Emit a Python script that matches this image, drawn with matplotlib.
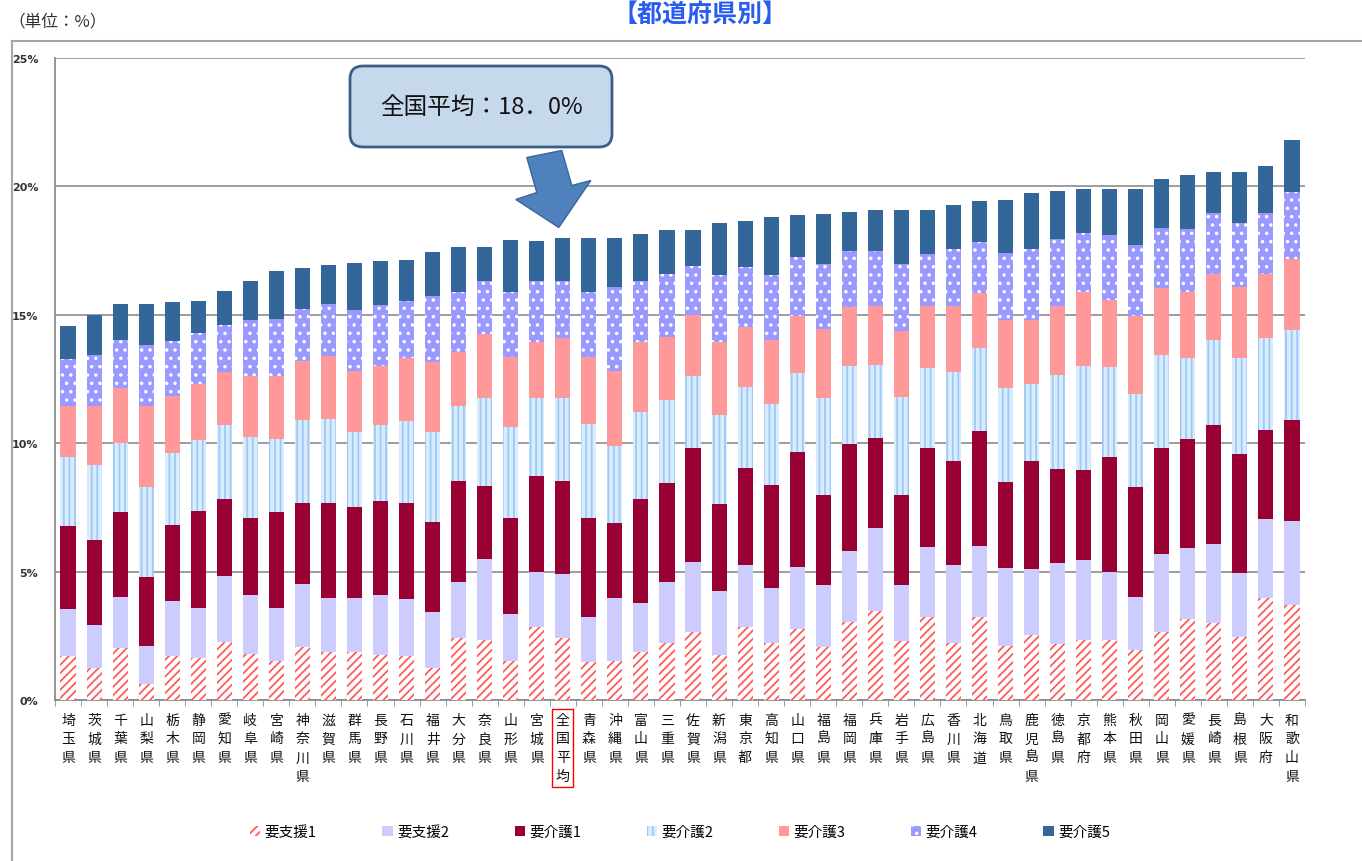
import matplotlib
matplotlib.use('Agg')
import matplotlib.pyplot as plt
import numpy as np
from matplotlib.patches import FancyBboxPatch, Polygon
from matplotlib.lines import Line2D
from matplotlib.transforms import IdentityTransform

plt.rcParams['font.family'] = ['Noto Sans CJK JP', 'DejaVu Sans']
plt.rcParams['hatch.linewidth'] = 1.3

prefs = ['埼玉県', '茨城県', '千葉県', '山梨県', '栃木県', '静岡県', '愛知県', '岐阜県',
         '宮崎県', '神奈川県', '滋賀県', '群馬県', '長野県', '石川県', '福井県', '大分県',
         '奈良県', '山形県', '宮城県', '全国平均', '青森県', '沖縄県', '富山県', '三重県',
         '佐賀県', '新潟県', '東京都', '高知県', '山口県', '福島県', '福岡県', '兵庫県',
         '岩手県', '広島県', '香川県', '北海道', '鳥取県', '鹿児島県', '徳島県', '京都府',
         '熊本県', '秋田県', '岡山県', '愛媛県', '長崎県', '島根県', '大阪府', '和歌山県']

shien1 = [1.70, 1.23, 2.01, 0.62, 1.70, 1.62, 2.26, 1.79, 1.51, 2.08, 1.86, 1.86, 1.75, 1.70, 1.25, 2.43,
          2.33, 1.53, 2.83, 2.43, 1.49, 1.53, 1.86, 2.21, 2.66, 1.76, 2.83, 2.21, 2.76, 2.05, 3.03, 3.47,
          2.31, 3.23, 2.21, 3.24, 2.10, 2.52, 2.20, 2.35, 2.32, 1.94, 2.66, 3.14, 3.00, 2.46, 3.96, 3.71]
shien2 = [1.84, 1.70, 2.01, 1.49, 2.16, 1.95, 2.58, 2.30, 2.06, 2.44, 2.10, 2.10, 2.34, 2.23, 2.16, 2.18,
          3.16, 1.82, 2.14, 2.48, 1.75, 2.43, 1.91, 2.40, 2.72, 2.47, 2.44, 2.14, 2.41, 2.43, 2.76, 3.22,
          2.15, 2.73, 3.06, 2.75, 3.05, 2.59, 3.14, 3.09, 2.66, 2.06, 3.03, 2.76, 3.09, 2.48, 3.10, 3.27]
kaigo1 = [3.22, 3.31, 3.29, 2.69, 2.95, 3.78, 2.99, 3.00, 3.74, 3.14, 3.70, 3.54, 3.67, 3.73, 3.53, 3.93,
          2.86, 3.74, 3.74, 3.62, 3.84, 2.92, 4.06, 3.84, 4.42, 3.39, 3.76, 4.03, 4.50, 3.52, 4.17, 3.52,
          3.54, 3.84, 4.02, 4.49, 3.35, 4.18, 3.67, 3.53, 4.47, 4.28, 4.14, 4.25, 4.61, 4.65, 3.47, 3.93]
kaigo2 = [2.69, 2.91, 2.70, 3.49, 2.79, 2.76, 2.88, 3.14, 2.87, 3.24, 3.28, 2.92, 2.95, 3.19, 3.48, 2.90,
          3.40, 3.55, 3.04, 3.22, 3.65, 3.02, 3.39, 3.23, 2.83, 3.46, 3.17, 3.15, 3.05, 3.75, 3.06, 2.83,
          3.79, 3.13, 3.47, 3.21, 3.64, 3.02, 3.63, 4.03, 3.52, 3.64, 3.60, 3.17, 3.31, 3.74, 3.58, 3.50]
kaigo3 = [2.01, 2.31, 2.13, 3.17, 2.23, 2.20, 2.05, 2.40, 2.45, 2.30, 2.44, 2.41, 2.31, 2.45, 2.73, 2.10,
          2.49, 2.72, 2.20, 2.33, 2.61, 2.92, 2.73, 2.47, 2.36, 2.87, 2.34, 2.49, 2.24, 2.69, 2.29, 2.31,
          2.59, 2.40, 2.59, 2.15, 2.66, 2.49, 2.71, 2.88, 2.60, 3.03, 2.60, 2.56, 2.59, 2.77, 2.49, 2.77]
kaigo4 = [1.82, 1.99, 1.89, 2.36, 2.14, 1.98, 1.84, 2.16, 2.19, 2.03, 2.05, 2.34, 2.36, 2.24, 2.57, 2.36,
          2.09, 2.52, 2.35, 2.25, 2.56, 3.27, 2.35, 2.44, 1.90, 2.60, 2.31, 2.53, 2.30, 2.55, 2.19, 2.12,
          2.61, 2.04, 2.22, 1.99, 2.59, 2.77, 2.62, 2.31, 2.54, 2.76, 2.34, 2.48, 2.35, 2.49, 2.35, 2.59]
kaigo5 = [1.27, 1.55, 1.40, 1.61, 1.52, 1.26, 1.31, 1.51, 1.89, 1.59, 1.51, 1.85, 1.72, 1.59, 1.73, 1.74,
          1.31, 2.03, 1.58, 1.67, 2.09, 1.90, 1.85, 1.70, 1.40, 2.01, 1.80, 2.27, 1.63, 1.92, 1.52, 1.61,
          2.09, 1.71, 1.70, 1.61, 2.09, 2.17, 1.86, 1.69, 1.77, 2.17, 1.93, 2.10, 1.61, 1.97, 1.83, 2.04]

series = [shien1, shien2, kaigo1, kaigo2, kaigo3, kaigo4, kaigo5]
names = ['要支援1', '要支援2', '要介護1', '要介護2', '要介護3', '要介護4', '要介護5']
# face colour, hatch colour, hatch
styles = [('white', '#ff5a5a', '////'),
          ('#ccccff', '#ccccff', None),
          ('#990033', '#990033', None),
          ('#d9ecff', '#9ccaf5', '|||'),
          ('#ff9999', '#ff9999', None),
          ('#9999ff', 'white', '..'),
          ('#336699', '#336699', None)]

W, H = 1362, 862
fig = plt.figure(figsize=(W / 100, H / 100), dpi=100)
ax = fig.add_axes([55 / W, 1 - 701 / H, (1305 - 55) / W, (701 - 59) / H])

x = np.arange(len(prefs))
bottom = np.zeros(len(prefs))
for vals, name, (fc, ec, hatch) in zip(series, names, styles):
    ax.bar(x, vals, 0.58, bottom=bottom, color=fc, edgecolor=ec, hatch=hatch,
           linewidth=0, label=name, zorder=3)
    bottom += np.array(vals)

ax.set_xlim(-0.5, len(prefs) - 0.5)
ax.set_ylim(0, 25)
ax.set_yticks(range(0, 26, 5))
ax.set_yticklabels([f'{v}%' for v in range(0, 26, 5)], fontsize=8, color='#333333',
                   family='DejaVu Sans', fontweight='bold')
ax.tick_params(axis='y', length=0, pad=12)
ax.yaxis.grid(True, color='#8c8c8c', linewidth=1.2, zorder=0)
ax.set_axisbelow(True)
for s in ['top', 'right']:
    ax.spines[s].set_visible(False)
for s in ['left', 'bottom']:
    ax.spines[s].set_color('#8c8c8c')
    ax.spines[s].set_linewidth(1.3)

ax.set_xticks(x)
ax.set_xticklabels(['\n'.join(p) for p in prefs], fontsize=10, linespacing=1.45,
                   va='top', color='#111111')
ax.tick_params(axis='x', which='major', length=0, pad=9)
ax.set_xticks(np.arange(-0.5, len(prefs), 1), minor=True)
ax.tick_params(axis='x', which='minor', length=4, color='#8c8c8c', direction='out')

nat = prefs.index('全国平均')
ax.get_xticklabels()[nat].set_bbox(dict(facecolor='none', edgecolor='red', linewidth=1, pad=2.5))

# outer frame
fig.add_artist(Line2D([12 / W, 12 / W], [0, 1 - 42 / H], transform=fig.transFigure,
                      color='#a6a6a6', linewidth=1.5))
fig.add_artist(Line2D([12 / W, 1], [1 - 42 / H, 1 - 42 / H], transform=fig.transFigure,
                      color='#a6a6a6', linewidth=1.5))

fig.text(8 / W, 1 - 22 / H, '（単位：%）', fontsize=12, color='#333333', va='center', ha='left')
fig.text(700 / W, 1 - 15 / H, '【都道府県別】', fontsize=18, fontweight='bold',
         color='#2a5cf0', va='center', ha='center')

# callout
nat_total = sum(s[nat] for s in series)
fig.add_artist(FancyBboxPatch((350, H - 148), 262, 81, boxstyle='round,pad=0,rounding_size=13',
                              transform=IdentityTransform(), facecolor='#c6d8ec',
                              edgecolor='#3e5c85', linewidth=2))
fig.text(481 / W, 1 - 107 / H, f'全国平均：{nat_total:.1f}%'.replace('.', '．'),
         fontsize=17, color='#111111', va='center', ha='center')

tx, ty = ax.transData.transform((nat, nat_total + 0.4))
tx -= 4
offs = [(-32, 70), (3, 77), (13, 42), (32, 47), (0, 0), (-43, 28), (-22, 35)]
fig.add_artist(Polygon([(tx + dx, ty + dy) for dx, dy in offs], closed=True,
                       transform=IdentityTransform(), facecolor='#4f81bd',
                       edgecolor='#3a679c', linewidth=1))

fig.legend(loc='center', bbox_to_anchor=(680 / W, 1 - 833 / H), ncol=7, frameon=False,
           fontsize=10.5, handlelength=0.7, handleheight=0.7, handletextpad=0.3,
           columnspacing=4.5)

fig.savefig('out.png', dpi=100)
